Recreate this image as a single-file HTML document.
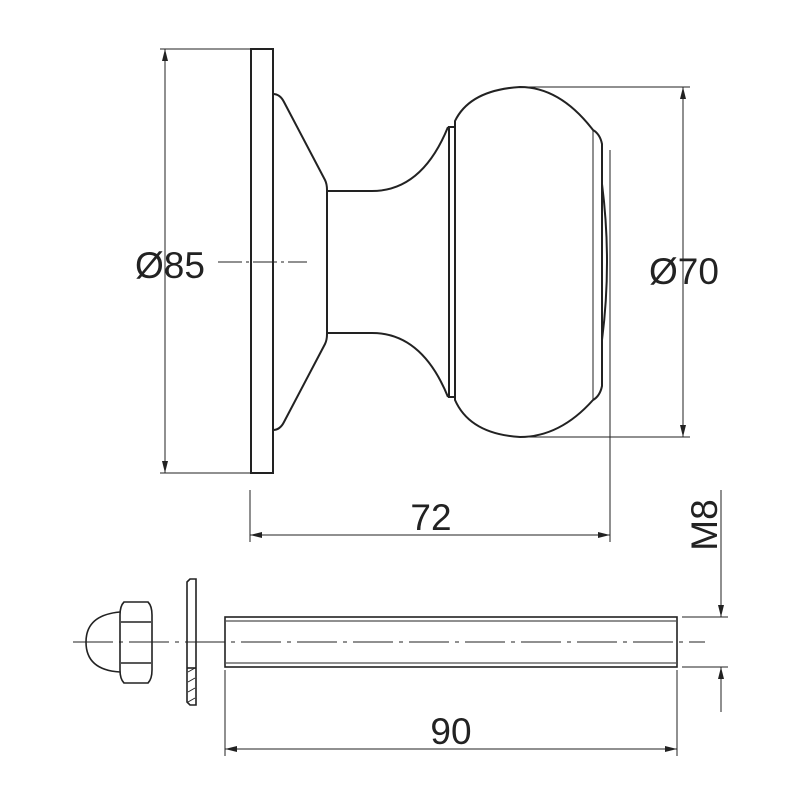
<!DOCTYPE html>
<html><head><style>html,body{margin:0;padding:0;background:#fff}svg{display:block}</style></head>
<body>
<svg width="800" height="800" viewBox="0 0 800 800" xmlns="http://www.w3.org/2000/svg">
<defs>
<marker id="a" viewBox="0 0 12 6" refX="12" refY="3" markerWidth="12" markerHeight="6" markerUnits="userSpaceOnUse" orient="auto-start-reverse"><path d="M0,0L12,3L0,6z" fill="#222"/></marker>
</defs>
<g fill="none" stroke="#222" stroke-width="2">
<rect x="251" y="49" width="22" height="424"/>
<path d="M273,94 Q280,94 284,102 L325,180 Q327,184 327,190 L327,334 Q327,340 325,344 L284,422 Q280,430 273,430"/>
<path d="M327,191 L372,191 Q422,191 448,127"/>
<path d="M327,333 L372,333 Q422,333 448,397"/>
<rect x="449" y="127" width="6" height="270"/>
<path d="M455,121 Q470,90 520,87 Q560,87 593,130 Q600,134 602,144 L602,386 Q600,396 593,400 Q560,437 520,437 Q470,434 455,400 Z"/>
<path d="M602,184 Q612,262 602,340"/>
</g>
<g fill="none" stroke="#222" stroke-width="1">
<line x1="593" y1="130" x2="593" y2="400"/>
<line x1="160" y1="49" x2="250" y2="49"/><line x1="160" y1="473" x2="250" y2="473"/>
<line x1="165" y1="49" x2="165" y2="473" marker-start="url(#a)" marker-end="url(#a)"/>
<line x1="218" y1="262" x2="307" y2="262" stroke-dasharray="24,4,3,4"/>
<line x1="520" y1="87" x2="690" y2="87"/><line x1="520" y1="437" x2="690" y2="437"/>
<line x1="683" y1="87" x2="683" y2="437" marker-start="url(#a)" marker-end="url(#a)"/>
<line x1="250" y1="490" x2="250" y2="542"/><line x1="610" y1="150" x2="610" y2="542"/>
<line x1="250" y1="535" x2="610" y2="535" marker-start="url(#a)" marker-end="url(#a)"/>
<line x1="73" y1="642" x2="705" y2="642" stroke-dasharray="40,6,4,6"/>
<line x1="225" y1="670" x2="225" y2="756"/><line x1="677" y1="670" x2="677" y2="756"/>
<line x1="225" y1="749" x2="677" y2="749" marker-start="url(#a)" marker-end="url(#a)"/>
<line x1="682" y1="617" x2="728" y2="617"/><line x1="682" y1="667" x2="728" y2="667"/>
<line x1="721" y1="490" x2="721" y2="617" marker-end="url(#a)"/>
<line x1="721" y1="712" x2="721" y2="667" marker-end="url(#a)"/>
<line x1="226" y1="621" x2="676" y2="621"/><line x1="226" y1="663" x2="676" y2="663"/>
<line x1="188" y1="672" x2="195" y2="668"/><line x1="188" y1="682" x2="195" y2="678"/><line x1="188" y1="692" x2="195" y2="688"/><line x1="188" y1="702" x2="195" y2="698"/>
</g>
<g fill="none" stroke="#222" stroke-width="1.6">
<rect x="225" y="617" width="452" height="50"/>
<path d="M124,602 L148,602 Q152,606 152,615 L152,670 Q152,679 148,683 L124,683 Q120,679 120,670 L120,615 Q120,606 124,602 Z"/>
<path d="M121,622 L151,622 M121,663 L151,663"/>
<path d="M120,612 Q86,615 86,642 Q86,670 120,672"/>
<path d="M187,582 L190,579 L196,579 L196,705 L190,705 L187,702 Z"/>
<line x1="187" y1="668" x2="196" y2="668"/>
</g>
<g font-family="Liberation Sans, sans-serif" font-size="37" fill="#222">
<text x="170" y="278" text-anchor="middle">Ø85</text>
<text x="684" y="284" text-anchor="middle">Ø70</text>
<text x="431" y="530" text-anchor="middle">72</text>
<text x="451" y="744" text-anchor="middle">90</text>
<text transform="translate(717,525) rotate(-90)" text-anchor="middle">M8</text>
</g>
</svg>
</body></html>
